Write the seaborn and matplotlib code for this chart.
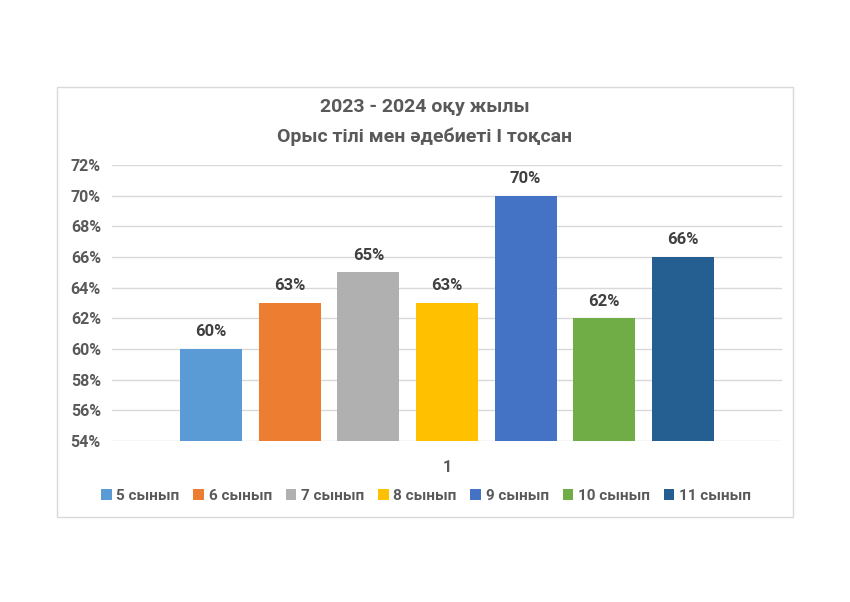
import numpy as np
import pandas as pd
import seaborn as sns
import matplotlib.pyplot as plt
from matplotlib.patches import Rectangle
from matplotlib.ticker import FuncFormatter

classes = ['5 сынып', '6 сынып', '7 сынып', '8 сынып', '9 сынып', '10 сынып', '11 сынып']
values = [60, 63, 65, 63, 70, 62, 66]
quarter = ['1'] * len(classes)
colors = ['#5B9BD5', '#ED7D31', '#B0B0B0', '#FFC000', '#4472C4', '#70AD47', '#255E91']

df = pd.DataFrame({'quarter': quarter, 'class': classes, 'value': values})

sns.set_theme(style='white')
plt.rcParams['font.family'] = ['Roboto', 'DejaVu Sans']
text_col = '#595959'

fig = plt.figure(figsize=(8.5, 6.02), dpi=100)
ax = fig.add_axes([112/850, 1-441/602, (782-112)/850, (441-165)/602])

sns.barplot(data=df, x='quarter', y='value', hue='class', palette=colors,
            width=0.822, gap=0.21, ax=ax, legend=True, saturation=1, linewidth=0)

ax.set_ylim(54, 72)
ax.set_yticks(np.arange(54, 73, 2))
ax.yaxis.set_major_formatter(FuncFormatter(lambda v, p: f'{v:.0f}%'))
ax.grid(axis='y', color='#d9d9d9', linewidth=1)
ax.set_axisbelow(True)
for s in ax.spines.values():
    s.set_visible(False)
ax.tick_params(axis='both', length=0, labelsize=11.5, labelcolor=text_col, pad=8)
for lab in ax.get_xticklabels() + ax.get_yticklabels():
    lab.set_fontweight('bold')
ax.tick_params(axis='x', pad=14)
ax.set_xlabel('')
ax.set_ylabel('')

for c in ax.containers:
    ax.bar_label(c, fmt='%.0f%%', padding=7, fontsize=12, fontweight='bold', color='#404040')

handles, labels = ax.get_legend_handles_labels()
ax.get_legend().remove()
fig.legend(handles, labels, loc='center', bbox_to_anchor=(426/850, 1-496/602), ncol=7,
           frameon=False, handlelength=0.7, handleheight=0.7,
           handletextpad=0.3, columnspacing=0.9, labelcolor=text_col,
           prop={'weight': 'bold', 'size': 11})

fig.text(425/850, 1-107/602, '2023 - 2024 оқу жылы', ha='center', va='center',
         fontsize=14, fontweight='bold', color=text_col)
fig.text(425/850, 1-137/602, 'Орыс тілі мен әдебиеті I тоқсан', ha='center', va='center',
         fontsize=14, fontweight='bold', color=text_col)

fig.patches.append(Rectangle((57/850, 1-517/602), (793-57)/850, (517-87)/602,
                             transform=fig.transFigure, fill=False,
                             edgecolor='#d9d9d9', linewidth=1))

fig.savefig('out.png', dpi=100, facecolor='white')
